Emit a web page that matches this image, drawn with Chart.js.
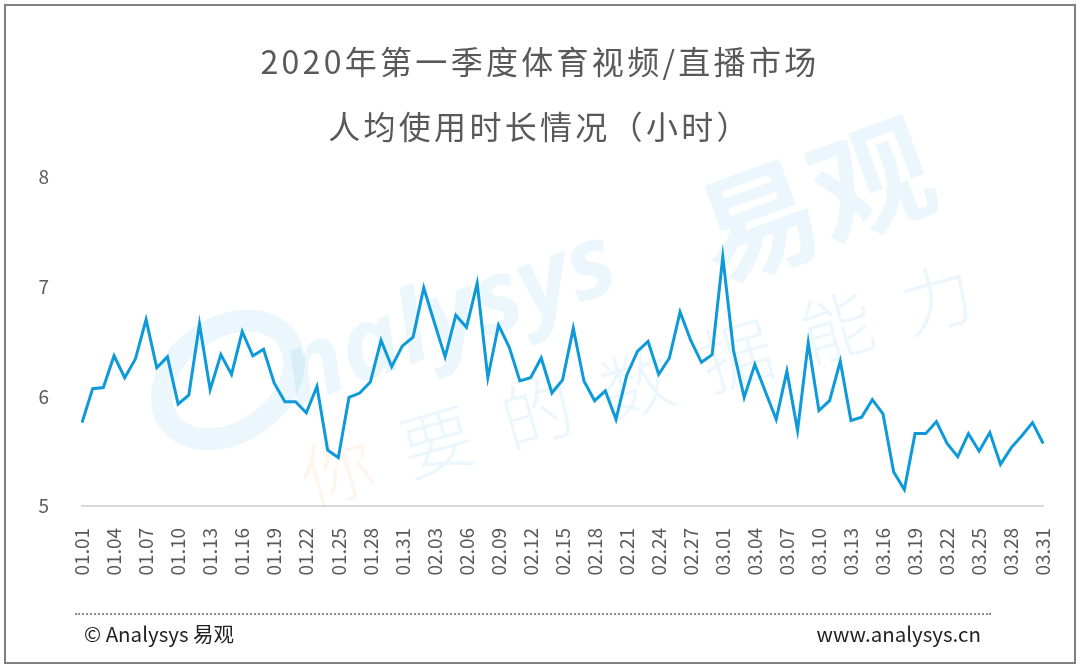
<!DOCTYPE html>
<html>
<head>
<meta charset="utf-8">
<script src="https://cdn.jsdelivr.net/npm/chart.js@4"></script>
<style>
    body { margin: 0; background: #fff; font-family: "Noto Sans CJK SC", "Noto Sans", sans-serif; }
    #wrap { position: relative; width: 1080px; height: 670px; overflow: hidden; }
    #frame { position: absolute; left: 4px; top: 4px; width: 1068px; height: 656px; border: 2px solid #808080; }
    #chart { position: absolute; left: 0; top: 0; }
    .title { position: absolute; left: 0; width: 1080px; text-align: center; color: #595959;
             font-size: 32px; letter-spacing: 3.3px; line-height: 40px; }
    #dots { position: absolute; left: 75px; top: 613px; width: 916px; border-top: 2px dotted #8c8c8c; }
    .foot { position: absolute; top: 619px; font-size: 20.5px; line-height: 28px; color: #222; }
</style>
</head>
<body>
<div id="wrap">
    <div id="frame"></div>
    <canvas id="chart" width="1080" height="670"></canvas>
    <div class="title" style="top:40px">2020年第一季度体育视频/直播市场</div>
    <div class="title" style="top:105px">人均使用时长情况（小时）</div>
    <div id="dots"></div>
    <div class="foot" style="left:84px">© Analysys 易观</div>
    <div class="foot" style="right:99px">www.analysys.cn</div>
</div>
<script>
// daily labels
const janDays = ['01.01','01.02','01.03','01.04','01.05','01.06','01.07','01.08','01.09','01.10',
    '01.11','01.12','01.13','01.14','01.15','01.16','01.17','01.18','01.19','01.20',
    '01.21','01.22','01.23','01.24','01.25','01.26','01.27','01.28','01.29','01.30','01.31'];
const febDays = ['02.01','02.02','02.03','02.04','02.05','02.06','02.07','02.08','02.09','02.10',
    '02.11','02.12','02.13','02.14','02.15','02.16','02.17','02.18','02.19','02.20',
    '02.21','02.22','02.23','02.24','02.25','02.26','02.27','02.28','02.29'];
const marDays = ['03.01','03.02','03.03','03.04','03.05','03.06','03.07','03.08','03.09','03.10',
    '03.11','03.12','03.13','03.14','03.15','03.16','03.17','03.18','03.19','03.20',
    '03.21','03.22','03.23','03.24','03.25','03.26','03.27','03.28','03.29','03.30','03.31'];

// hours per user per day
const janValues = [5.76, 6.07, 6.08, 6.37, 6.17, 6.34, 6.70, 6.26, 6.36, 5.93,
    6.01, 6.66, 6.06, 6.38, 6.20, 6.59, 6.37, 6.43, 6.12, 5.95,
    5.95, 5.85, 6.09, 5.51, 5.44, 5.99, 6.03, 6.13, 6.51, 6.27, 6.46];
const febValues = [6.54, 6.99, 6.67, 6.36, 6.74, 6.63, 7.03, 6.17, 6.65, 6.45,
    6.14, 6.17, 6.35, 6.03, 6.15, 6.62, 6.14, 5.96, 6.05, 5.79,
    6.19, 6.41, 6.50, 6.20, 6.35, 6.77, 6.51, 6.31, 6.38];
const marValues = [7.27, 6.42, 5.99, 6.29, 6.04, 5.79, 6.23, 5.69, 6.49, 5.87,
    5.96, 6.32, 5.78, 5.81, 5.97, 5.84, 5.31, 5.15, 5.66, 5.66,
    5.77, 5.57, 5.45, 5.66, 5.50, 5.67, 5.38, 5.53, 5.64, 5.76, 5.57];

const yMin = 5, yMax = 8, yStep = 1;
const labelEvery = 3;

const labels = janDays.concat(febDays, marDays);
const values = janValues.concat(febValues, marValues);

// faint watermark behind the line
const watermark = {
    id: 'watermark',
    beforeDatasetsDraw(chart) {
        const ctx = chart.ctx;
        const blue = 'rgba(20,160,225,0.085)';
        ctx.save();
        ctx.fillStyle = blue;
        ctx.strokeStyle = blue;
        ctx.textBaseline = 'middle';
        ctx.textAlign = 'center';

        // round logo mark
        ctx.save();
        ctx.translate(228, 380);
        ctx.rotate(-35 * Math.PI / 180);
        ctx.lineWidth = 22;
        ctx.beginPath();
        ctx.ellipse(0, 0, 72, 52, 0, 0, Math.PI * 2);
        ctx.stroke();
        ctx.restore();

        ctx.save();
        ctx.translate(450, 320);
        ctx.rotate(-20 * Math.PI / 180);
        ctx.font = 'italic bold 100px "Open Sans", sans-serif';
        ctx.fillText('nalysys', 0, 0);
        ctx.restore();

        ctx.save();
        ctx.translate(815, 200);
        ctx.rotate(-20 * Math.PI / 180);
        ctx.font = 'bold 120px "Noto Sans CJK SC", sans-serif';
        ctx.fillText('易观', 0, 0);
        ctx.restore();

        const slogan = ['你', '要', '的', '数', '据', '能', '力'];
        ctx.font = '300 72px "Noto Sans CJK SC", sans-serif';
        ctx.save();
        ctx.translate(337, 470);
        ctx.rotate(-16 * Math.PI / 180);
        slogan.forEach((ch, i) => {
            ctx.fillStyle = i === 0 ? 'rgba(250,170,100,0.12)' : blue;
            ctx.fillText(ch, i * 104, 0);
        });
        ctx.restore();

        ctx.restore();
    }
};

const ctx = document.getElementById('chart').getContext('2d');
new Chart(ctx, {
    type: 'line',
    data: {
        labels: labels,
        datasets: [{
            data: values,
            borderColor: '#0e9ad9',
            borderWidth: 3,
            pointRadius: 0,
            tension: 0,
            fill: false
        }]
    },
    options: {
        responsive: false,
        animation: false,
        layout: { padding: { left: 0, right: 35, top: 177, bottom: 84 } },
        plugins: {
            legend: { display: false },
            tooltip: { enabled: false }
        },
        scales: {
            x: {
                offset: false,
                grid: { display: false },
                border: { display: true, color: '#d9d9d9', width: 2 },
                afterFit(scale) { scale.height = 80; },
                ticks: {
                    autoSkip: false,
                    maxRotation: 90,
                    minRotation: 90,
                    padding: 14,
                    color: '#595959',
                    font: { family: '"Noto Sans CJK SC", sans-serif', size: 19 },
                    callback: function(val, idx) {
                        return idx % labelEvery === 0 ? this.getLabelForValue(val) : null;
                    }
                }
            },
            y: {
                min: yMin,
                max: yMax,
                grid: { display: false },
                border: { display: false },
                afterFit(scale) { scale.width = 82; },
                ticks: {
                    stepSize: yStep,
                    padding: 25,
                    color: '#595959',
                    font: { family: '"Noto Sans CJK SC", sans-serif', size: 19 }
                }
            }
        }
    },
    plugins: [watermark]
});
</script>
</body>
</html>
